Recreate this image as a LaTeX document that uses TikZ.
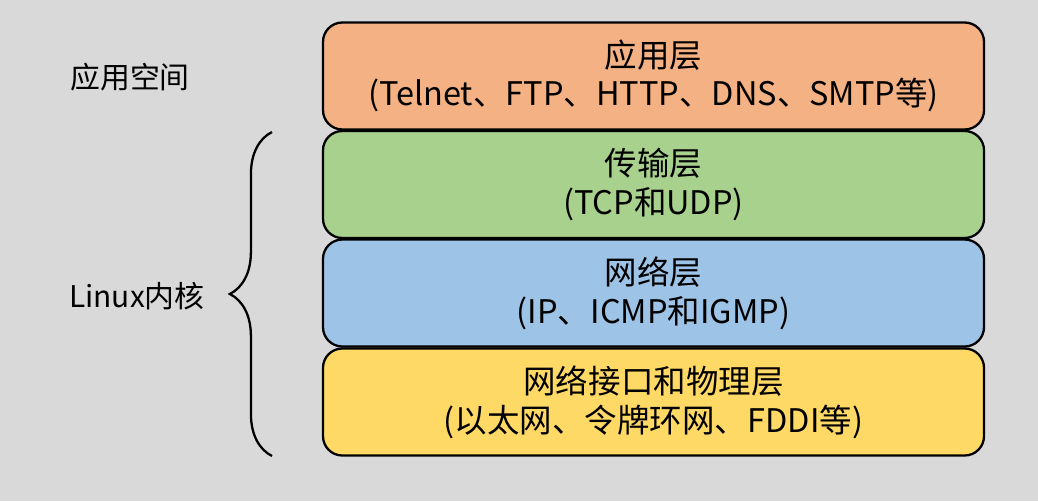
\documentclass[tikz,border=0pt]{standalone}
\usepackage{fontspec}
\setmainfont{Noto Sans CJK SC}
\usetikzlibrary{decorations.pathreplacing}
\definecolor{appc}{HTML}{F4B183}
\definecolor{tranc}{HTML}{A9D18E}
\definecolor{netc}{HTML}{9DC3E6}
\definecolor{phyc}{HTML}{FFD966}
\definecolor{bgc}{HTML}{D9D9D9}
\tikzset{layer/.style={draw=black,line width=1.3pt,rounded corners=11pt,minimum width=661*0.02cm,minimum height=107*0.02cm,align=center,font=\fontsize{18.5}{22}\selectfont,inner sep=0pt}}
\begin{document}
\begin{tikzpicture}[x=0.02cm,y=-0.02cm]
\fill[bgc](0,0)rectangle(1038,501);
\node[layer,fill=appc](app)at(653.5,76){应用层\\(Telnet、FTP、HTTP、DNS、SMTP等)};
\node[layer,fill=tranc](tran)at(653.5,184.5){传输层\\(TCP和UDP)};
\node[layer,fill=netc](net)at(653.5,293){网络层\\(IP、ICMP和IGMP)};
\node[layer,fill=phyc](phy)at(653.5,402){网络接口和物理层\\(以太网、令牌环网、FDDI等)};
\coordinate(btop)at(272,132);
\coordinate(bbot)at(272,456);
\draw[line width=1.3pt,decorate,decoration={brace,amplitude=24pt,aspect=0.5}](bbot)--(btop);
\node[font=\fontsize{17}{20}\selectfont](user)at(130,77){应用空间};
\node[font=\fontsize{17}{20}\selectfont](kern)at(137,296){Linux内核};
\end{tikzpicture}
\end{document}
